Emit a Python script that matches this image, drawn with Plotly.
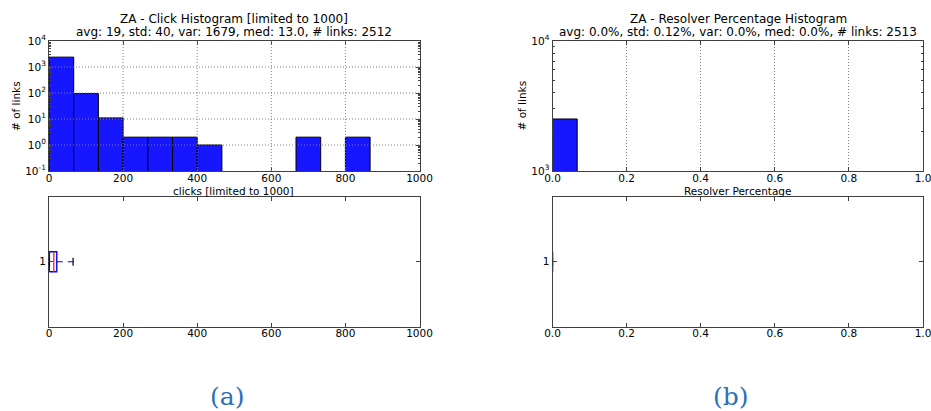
import plotly.graph_objects as go

W, H = 931, 411

# ---------------- data ----------------
click_bin_start = 0.0
click_bin_end = 1000.0
click_counts = [2395, 95, 11, 2, 2, 2, 1, 0, 0, 0, 2, 0, 2, 0, 0]

resolver_bin_start = 0.0
resolver_bin_end = 1.0
resolver_counts = [2513, 0, 0, 0, 0, 0, 0, 0, 0, 0, 0, 0, 0, 0, 0]

# box statistics: [lower whisker, q1, median, q3, upper whisker]
click_box = [1, 1, 13, 21, 65]
resolver_box = [0.0, 0.0, 0.0, 0.0, 0.0]

title_a = ["ZA - Click Histogram [limited to 1000]",
           "avg: 19, std: 40, var: 1679, med: 13.0, # links: 2512"]
title_b = ["ZA - Resolver Percentage Histogram",
           "avg: 0.0%, std: 0.12%, var: 0.0%, med: 0.0%, # links: 2513"]
xlabel_a = "clicks [limited to 1000]"
xlabel_b = "Resolver Percentage"
ylabel = "# of links"
panel_labels = ["(a)", "(b)"]

click_xticks = [0, 200, 400, 600, 800, 1000]
resolver_xticks = [0.0, 0.2, 0.4, 0.6, 0.8, 1.0]
click_ydecades = [-1, 0, 1, 2, 3, 4]
resolver_ydecades = [3, 4]

# ---------------- helpers ----------------
def px_x(p):
    return p / W

def px_y(p):
    return 1 - p / H

BAR_COLOR = "#1616ff"
FONT = "DejaVu Sans"
AX_COLOR = "#404040"
GRID_COLOR = "#808080"
GRID_DASH = "1px,2px"

fig = go.Figure()

def hist_bars(counts, start, end, xa, ya):
    n = len(counts)
    w = (end - start) / n
    xs, ys = [], []
    for i, c in enumerate(counts):
        if c > 0:
            xs.append(start + (i + 0.5) * w)
            ys.append(c)
    fig.add_trace(go.Bar(x=xs, y=ys, width=[w] * len(xs), marker=dict(color=BAR_COLOR, line=dict(color="black", width=1)),
                         xaxis=xa, yaxis=ya, showlegend=False))

hist_bars(click_counts, click_bin_start, click_bin_end, "x", "y")
hist_bars(resolver_counts, resolver_bin_start, resolver_bin_end, "x2", "y2")

def box_traces(stats, xa, ya):
    lo, q1, med, q3, hi = stats
    hb = 0.077
    cap = 0.03
    fig.add_trace(go.Scatter(x=[q1, q3, q3, q1, q1], y=[1 - hb, 1 - hb, 1 + hb, 1 + hb, 1 - hb], mode="lines",
                             line=dict(color="#0000ff", width=1.4), xaxis=xa, yaxis=ya, showlegend=False, hoverinfo="skip"))
    fig.add_trace(go.Scatter(x=[q3, hi, None, q1, lo], y=[1, 1, None, 1, 1], mode="lines",
                             line=dict(color="#0000ff", width=1.2, dash="6px,5px"), xaxis=xa, yaxis=ya, showlegend=False, hoverinfo="skip"))
    fig.add_trace(go.Scatter(x=[hi, hi, None, lo, lo], y=[1 - cap, 1 + cap, None, 1 - cap, 1 + cap], mode="lines",
                             line=dict(color="black", width=1.2), xaxis=xa, yaxis=ya, showlegend=False, hoverinfo="skip"))
    fig.add_trace(go.Scatter(x=[med, med], y=[1 - hb, 1 + hb], mode="lines",
                             line=dict(color="#ff2020", width=1.3), xaxis=xa, yaxis=ya, showlegend=False, hoverinfo="skip"))

box_traces(click_box, "x3", "y3")
box_traces(resolver_box, "x4", "y4")

# ---------------- layout ----------------
L_dom = [px_x(49), px_x(419.5)]
R_dom = [px_x(552.5), px_x(923)]
T_dom = [px_y(171), px_y(41)]
B_dom = [px_y(326.5), px_y(197)]

tickfont = dict(family=FONT, size=10.5, color="black")

def xaxis(dom, rng, ticks, fmt, anchor, grid):
    return dict(domain=dom, range=rng, tickvals=ticks, ticktext=[fmt(t) for t in ticks], tickfont=tickfont,
                ticks="inside", ticklen=4, tickcolor=AX_COLOR, mirror="allticks", showline=True, linecolor=AX_COLOR,
                linewidth=1, showgrid=grid, gridcolor=GRID_COLOR, griddash=GRID_DASH, gridwidth=1, zeroline=False,
                anchor=anchor, fixedrange=True, automargin=False, ticklabelstandoff=-3, ticklabeloverflow="allow")

def log_yaxis(dom, decades, anchor):
    minors = []
    for d in decades[:-1]:
        for m in range(2, 10):
            minors.append(m * 10 ** d)
    return dict(domain=dom, type="log", range=[decades[0], decades[-1]], tickvals=[10 ** d for d in decades],
                ticktext=["10<sup>%d</sup>" % d for d in decades], tickfont=tickfont,
                ticks="inside", ticklen=4, tickcolor=AX_COLOR, mirror="allticks", showline=True, linecolor=AX_COLOR,
                linewidth=1, showgrid=False, zeroline=False,
                minor=dict(tickvals=minors, ticks="inside", ticklen=2, tickcolor=AX_COLOR, showgrid=False),
                anchor=anchor, fixedrange=True, ticklabelstandoff=0, automargin=False, ticklabeloverflow="allow")

def box_yaxis(dom, anchor):
    return dict(domain=dom, range=[0.5, 1.5], tickvals=[1], ticktext=["1"], tickfont=tickfont,
                ticks="inside", ticklen=4, tickcolor=AX_COLOR, mirror="allticks", showline=True, linecolor=AX_COLOR,
                linewidth=1, showgrid=False, zeroline=False, anchor=anchor, fixedrange=True, ticklabelstandoff=0,
                automargin=False, ticklabeloverflow="allow")

fmt_int = lambda t: "%d" % t
fmt_1f = lambda t: "%.1f" % t

fig.update_layout(
    width=W, height=H, margin=dict(l=0, r=0, t=0, b=0, autoexpand=False), paper_bgcolor="white", plot_bgcolor="white",
    bargap=0, showlegend=False, hovermode=False,
    xaxis=xaxis(L_dom, [click_bin_start, click_bin_end], click_xticks, fmt_int, "y", False),
    yaxis=log_yaxis(T_dom, click_ydecades, "x"),
    xaxis2=xaxis(R_dom, [resolver_bin_start, resolver_bin_end], resolver_xticks, fmt_1f, "y2", True),
    yaxis2=log_yaxis(T_dom, resolver_ydecades, "x2"),
    xaxis3=xaxis(L_dom, [click_bin_start, click_bin_end], click_xticks, fmt_int, "y3", False),
    yaxis3=box_yaxis(B_dom, "x3"),
    xaxis4=xaxis(R_dom, [resolver_bin_start, resolver_bin_end], resolver_xticks, fmt_1f, "y4", False),
    yaxis4=box_yaxis(B_dom, "x4"),
)

# grid lines of the click histogram drawn above the bars (as in the reference)
grid_line = dict(color=GRID_COLOR, width=1, dash=GRID_DASH)
for t in click_xticks[1:-1]:
    fig.add_shape(type="line", xref="x", yref="y domain", x0=t, x1=t, y0=0, y1=1, line=grid_line, layer="above")
for d in click_ydecades[1:-1]:
    fig.add_shape(type="line", xref="x domain", yref="y", x0=0, x1=1, y0=10 ** d, y1=10 ** d, line=grid_line, layer="above")

ann = []
def text(x, y, s, size, rot=0, color="black", family=FONT):
    ann.append(dict(x=px_x(x), y=px_y(y), xref="paper", yref="paper", text=s, showarrow=False,
                    xanchor="center", yanchor="middle", textangle=rot, font=dict(family=family, size=size, color=color)))

text(234, 18.5, title_a[0], 12)
text(234, 32.5, title_a[1], 12)
text(738, 18.5, title_b[0], 12)
text(738, 32.5, title_b[1], 12)
text(234, 191, xlabel_a, 10.5)
text(738, 191, xlabel_b, 10.5)
text(16, 106, ylabel, 10.5, rot=-90)
text(521.5, 106, ylabel, 10.5, rot=-90)
text(227, 396, panel_labels[0], 25, color="#2f6fba", family="DejaVu Serif")
text(731, 396, panel_labels[1], 25, color="#2f6fba", family="DejaVu Serif")
fig.update_layout(annotations=ann)

fig.write_html("out.html", config={"displayModeBar": False, "staticPlot": True},
               post_script="document.body.style.margin='0';document.body.style.overflow='hidden';")
